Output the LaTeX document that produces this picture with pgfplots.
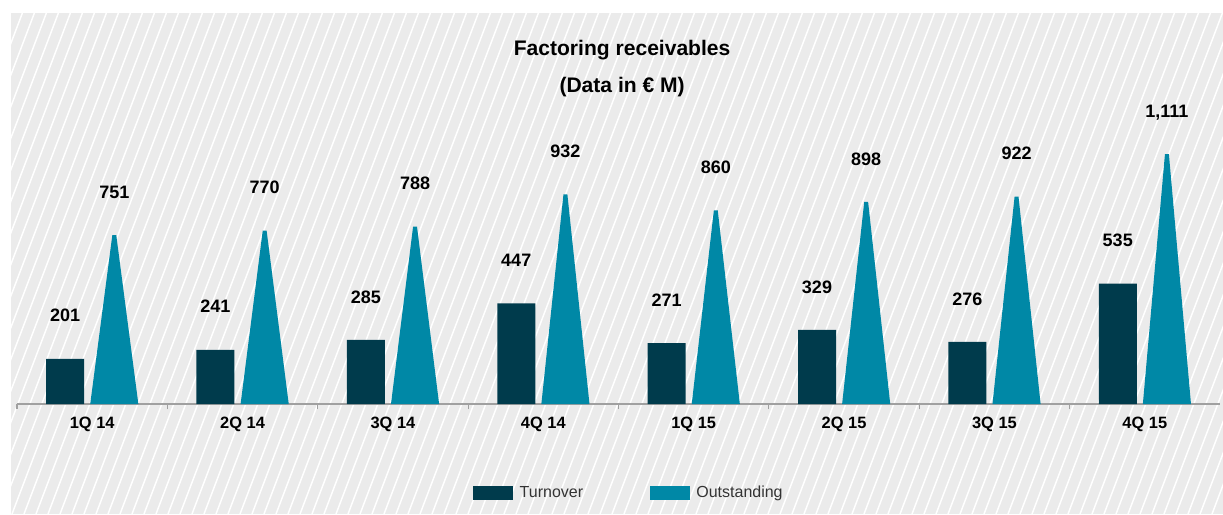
\documentclass[border=0pt]{standalone}
\usepackage{fontspec}
\setmainfont{Liberation Sans}
\usepackage{pgfplots}
\usepackage{pgfplotstable}
\pgfplotsset{compat=1.18}

\definecolor{bardark}{HTML}{003B4C}
\definecolor{barteal}{HTML}{0088A6}
\definecolor{bggray}{HTML}{EBEBEB}
\definecolor{axisgray}{HTML}{A0A0A0}
\definecolor{legtext}{HTML}{333333}

% quarter index, turnover, outstanding (EUR M)
\pgfplotstableread{
q turn out
0 201 751
1 241 770
2 285 788
3 447 932
4 271 860
5 329 898
6 276 922
7 535 1111
}\factoring

\begin{document}
\begin{tikzpicture}
\useasboundingbox (0,0) rectangle (917.25pt,385.5pt);
% hatched background
\fill[bggray] (8.25pt,0) rectangle (917.25pt,375.75pt);
\begin{scope}
  \clip (8.25pt,0) rectangle (917.25pt,375.75pt);
  \foreach \i in {-17,...,102}
    \draw[white, line width=1.1pt] (\i*9pt,0) -- ++(142.8pt,375.75pt);
\end{scope}

\begin{axis}[
    scale only axis,
    width=902.25pt, height=202.5pt,
    at={(12.75pt,82.5pt)}, anchor=south west,
    xmin=-0.5, xmax=7.5, ymin=0, ymax=1200,
    clip=false,
    axis y line=none,
    axis x line*=bottom,
    axis line style={axisgray, line width=1pt},
    xtick={0,...,7},
    xticklabels={1Q 14,2Q 14,3Q 14,4Q 14,1Q 15,2Q 15,3Q 15,4Q 15},
    major tick length=0pt,
    minor xtick={-0.5,0.5,...,6.5},
    minor tick length=4pt,
    tick align=outside,
    minor tick style={axisgray, line width=0.8pt},
    xticklabel style={font=\fontsize{12.3}{12}\selectfont\bfseries, text=black, anchor=base, yshift=-18pt},
    /pgf/number format/assume math mode=true,
    /pgf/number format/1000 sep={,},
    every node near coord/.append style={font=\fontsize{13.5}{13.5}\selectfont\bfseries, text=black, anchor=base, yshift=27.6pt},
    title={Factoring receivables\\(Data in € M)},
    title style={at={(0.503,1.318)}, anchor=north, inner sep=0pt, align=center,
      font=\fontsize{15.8}{27.75}\selectfont\bfseries},
    legend columns=2,
    legend style={at={(0.379,-0.328)}, anchor=west, draw=none, fill=none, inner sep=0pt,
      font=\fontsize{12}{12}\selectfont, text=legtext,
      /tikz/every even column/.append style={column sep=48pt}},
  ]
  % turnover bars
  \addplot[ybar, bar width=0.2527, fill=bardark, draw=none, forget plot,
    nodes near coords] table[x expr=\coordindex-0.18, y=turn] {\factoring};

  % outstanding triangles
  \addplot[fill=barteal, draw=none, forget plot] coordinates {(-0.013,0) (0.134,751) (0.160,751) (0.307,0)};
  \addplot[fill=barteal, draw=none, forget plot] coordinates {(0.987,0) (1.134,770) (1.160,770) (1.307,0)};
  \addplot[fill=barteal, draw=none, forget plot] coordinates {(1.987,0) (2.134,788) (2.160,788) (2.307,0)};
  \addplot[fill=barteal, draw=none, forget plot] coordinates {(2.987,0) (3.134,932) (3.160,932) (3.307,0)};
  \addplot[fill=barteal, draw=none, forget plot] coordinates {(3.987,0) (4.134,860) (4.160,860) (4.307,0)};
  \addplot[fill=barteal, draw=none, forget plot] coordinates {(4.987,0) (5.134,898) (5.160,898) (5.307,0)};
  \addplot[fill=barteal, draw=none, forget plot] coordinates {(5.987,0) (6.134,922) (6.160,922) (6.307,0)};
  \addplot[fill=barteal, draw=none, forget plot] coordinates {(6.987,0) (7.134,1111) (7.160,1111) (7.307,0)};
  % outstanding value labels
  \addplot[draw=none, mark=none, forget plot, nodes near coords]
    table[x expr=\coordindex+0.147, y=out] {\factoring};

  \addlegendimage{legend image code/.code={\fill[bardark] (0pt,-4.875pt) rectangle (29.25pt,4.875pt); \path (32.5pt,0pt);}}
  \addlegendentry{Turnover}
  \addlegendimage{legend image code/.code={\fill[barteal] (0pt,-4.875pt) rectangle (29.25pt,4.875pt); \path (32.5pt,0pt);}}
  \addlegendentry{Outstanding}
\end{axis}
\end{tikzpicture}
\end{document}
